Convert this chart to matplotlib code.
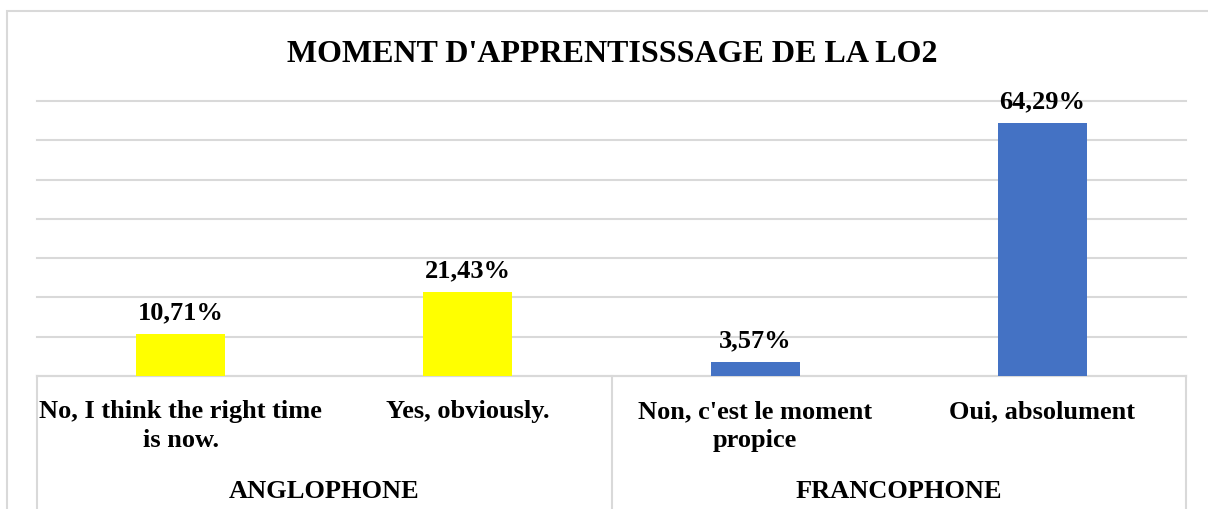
import matplotlib.pyplot as plt
from matplotlib.lines import Line2D
from matplotlib.patches import Rectangle
import matplotlib.transforms as mtransforms

plt.rcParams['font.family'] = ['Liberation Serif', 'DejaVu Serif']
plt.rcParams['font.weight'] = 'bold'

title = "MOMENT D'APPRENTISSSAGE DE LA LO2"
categories = ["No, I think the right time\nis now.", "Yes, obviously.",
              "Non, c'est le moment\npropice", "Oui, absolument"]
groups = ["ANGLOPHONE", "FRANCOPHONE"]
values = [10.71, 21.43, 3.57, 64.29]
labels = ["10,71%", "21,43%", "3,57%", "64,29%"]
colors = ['#ffff00', '#ffff00', '#4472c4', '#4472c4']

W, H = 1208, 510
fig = plt.figure(figsize=(W / 100, H / 100), dpi=100)

# plot area in pixels: x 37..1186, baseline y=377, top y=102
x0, x1, yb, yt = 37, 1186, 377, 102
ax = fig.add_axes([x0 / W, (H - yb) / H, (x1 - x0) / W, (yb - yt) / H])

xs = range(len(values))
ax.bar(xs, values, width=0.31, color=colors, zorder=3)
ax.set_xlim(-0.5, 3.5)
ax.set_ylim(0, 70)
ax.set_yticks(range(0, 71, 10))
ax.grid(axis='y', color='#d9d9d9', linewidth=1.5, zorder=0)
for gl in ax.get_ygridlines():
    gl.set_clip_on(False)
ax.tick_params(left=False, bottom=False, labelleft=False, labelbottom=False)
for s in ['top', 'right', 'left']:
    ax.spines[s].set_visible(False)
ax.spines['bottom'].set_color('#d9d9d9')
ax.spines['bottom'].set_linewidth(1.5)

for x, v, lab in zip(xs, values, labels):
    ax.annotate(lab, (x, v), xytext=(0, 11.5), textcoords='offset points',
                ha='center', va='baseline', fontsize=19, fontweight='bold')

# category axis labels (x in data, y in figure fraction)
trans = mtransforms.blended_transform_factory(ax.transData, fig.transFigure)
for x, cat in zip(xs, categories):
    ax.text(x, 1 - 400 / H, cat, transform=trans, ha='center', va='top',
            fontsize=19, fontweight='bold', linespacing=1.35, clip_on=False)
for i, g in enumerate(groups):
    ax.text(2 * i + 0.5, 1 - 498 / H, g, transform=trans, ha='center',
            va='baseline', fontsize=19, fontweight='bold', clip_on=False)

# category box dividers
for px in [x0, (x0 + x1) / 2, x1]:
    fig.add_artist(Line2D([px / W, px / W], [0, (H - yb) / H],
                          color='#d9d9d9', linewidth=1.5))

# chart border (left and top visible)
fig.add_artist(Rectangle((7 / W, -0.05), 1.1, 1 - 12 / H + 0.05,
                         transform=fig.transFigure, fill=False,
                         edgecolor='#d9d9d9', linewidth=1.5))

fig.text(612 / W, 1 - 62 / H, title, ha='center', va='baseline',
         fontsize=23, fontweight='bold')

fig.savefig('out.png', dpi=100)
